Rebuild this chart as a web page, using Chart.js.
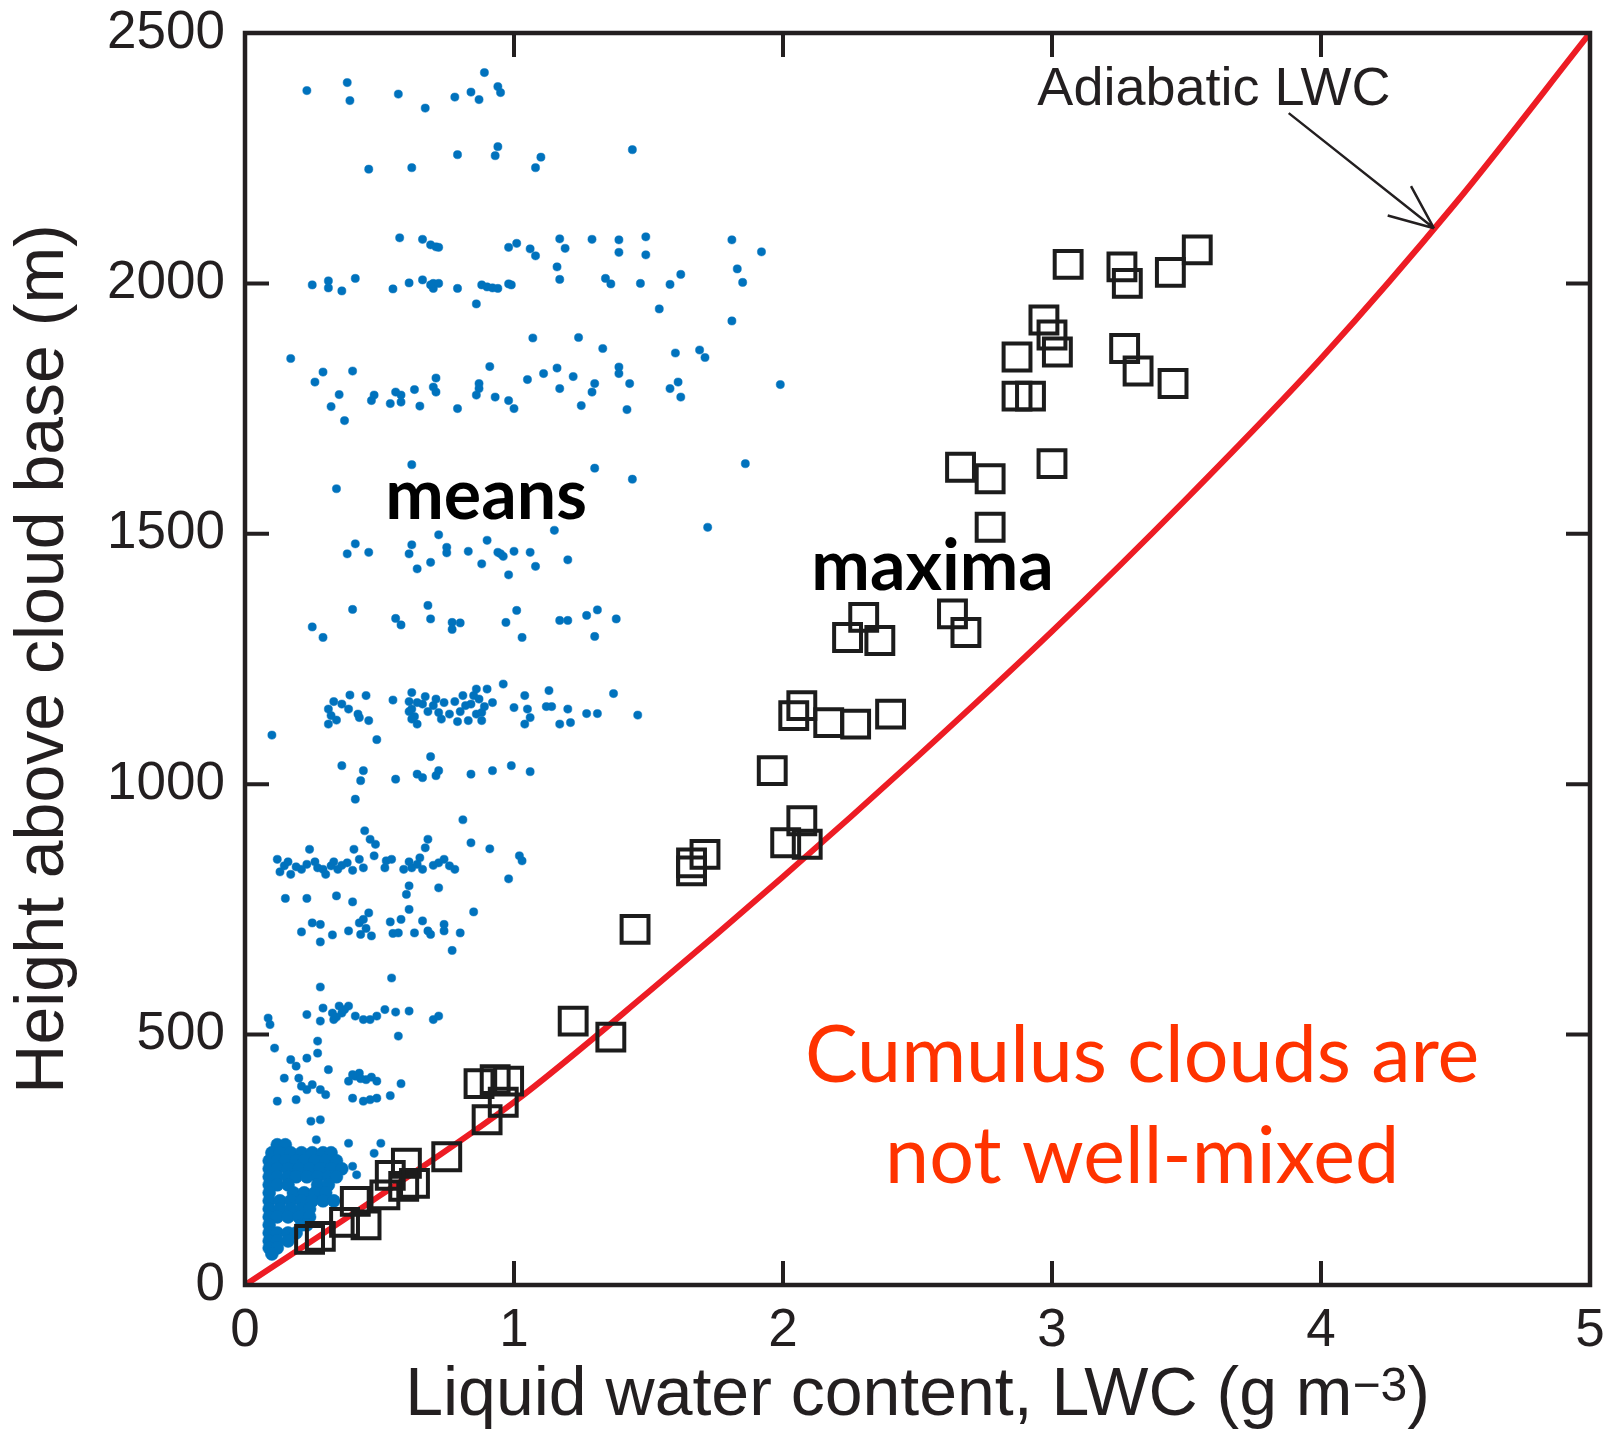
<!DOCTYPE html>
<html>
<head>
<meta charset="utf-8">
<title>Liquid water content vs height above cloud base</title>
<script src="https://cdn.jsdelivr.net/npm/chart.js@4.4.1/dist/chart.umd.min.js"></script>
<style>
  html, body { margin: 0; padding: 0; background: #ffffff; }
  #wrap { width: 1619px; height: 1431px; }
</style>
</head>
<body>
<div id="wrap"><canvas id="chart" width="1619" height="1431"></canvas></div>
<script>
// ---------- data ----------
// Axis tick values
const lwcTicks = [0, 1, 2, 3, 4, 5];
const heightTicks = [0, 500, 1000, 1500, 2000, 2500];

// In-cloud mean liquid water content samples [LWC g m^-3, height m]
const meansPoints = [
  // ~2380 m
  [0.23,2385],[0.38,2401],[0.39,2365],[0.57,2378],[0.67,2350],[0.78,2372],[0.84,2382],[0.87,2367],[0.89,2421],[0.94,2393],[0.95,2381],
  // ~2250 m
  [0.46,2228],[0.62,2231],[0.79,2257],[0.94,2273],[0.93,2255],[1.10,2252],[1.08,2231],[1.44,2267],
  // ~2080 m
  [0.575,2091],[0.66,2088],[0.69,2077],[0.71,2073],[0.72,2072],[0.98,2072],[1.01,2080],[1.06,2069],[1.08,2055],[1.17,2089],
  [1.19,2070],[1.16,2033],[1.17,2008],[1.29,2088],[1.39,2087],[1.39,2062],[1.49,2093],[1.49,2057],[1.81,2087],[1.92,2063],
  [1.83,2029],[1.85,2002],[1.62,2018],[1.58,1998],[1.47,2000],[1.34,2010],[1.36,1999],[1.54,1949],[1.81,1925],
  // ~2000 m
  [0.25,1997],[0.31,2005],[0.31,1991],[0.36,1985],[0.41,2010],[0.55,1989],[0.61,2001],[0.66,2007],[0.69,1997],[0.70,1990],
  [0.70,2000],[0.72,2000],[0.79,1990],[0.86,1959],[0.88,1997],[0.90,1993],[0.92,1991],[0.94,1990],[0.98,1999],[0.99,1997],
  // ~1800 m
  [0.17,1850],[0.29,1823],[0.26,1803],[0.40,1825],[0.35,1778],[0.32,1754],[0.37,1726],[0.47,1766],[0.48,1777],[0.54,1760],
  [0.56,1783],[0.58,1763],[0.58,1777],[0.63,1788],[0.65,1755],[0.70,1793],[0.71,1811],[0.71,1783],[0.79,1750],[0.91,1834],
  [0.87,1800],[0.87,1790],[0.86,1777],[0.93,1773],[0.98,1766],[1.00,1750],[1.05,1808],[1.07,1891],[1.11,1820],[1.16,1831],
  [1.17,1790],[1.22,1814],[1.24,1892],[1.25,1756],[1.30,1800],[1.29,1783],[1.33,1870],[1.39,1833],[1.39,1820],[1.43,1800],
  [1.42,1748],[1.58,1790],[1.61,1803],[1.62,1773],[1.60,1861],[1.69,1867],[1.71,1852],[1.99,1798],
  // ~1600 m and isolated
  [0.62,1638],[0.34,1590],[1.30,1631],[1.44,1609],[1.86,1640],[1.72,1513],[1.15,1507],[0.72,1498],
  // ~1450 m
  [0.41,1480],[0.38,1460],[0.46,1463],[0.62,1478],[0.61,1460],[0.64,1430],[0.69,1443],[0.75,1473],[0.75,1462],[0.83,1465],
  [0.88,1440],[0.90,1487],[0.94,1463],[0.96,1455],[0.95,1460],[0.98,1418],[1.00,1465],[1.06,1463],[1.08,1435],[1.20,1448],
  // ~1320 m
  [0.40,1349],[0.25,1314],[0.29,1293],[0.56,1331],[0.58,1318],[0.68,1357],[0.69,1330],[0.77,1323],[0.77,1309],[0.80,1322],
  [0.97,1323],[1.01,1347],[1.03,1293],[1.17,1327],[1.20,1327],[1.27,1337],[1.31,1348],[1.30,1295],[1.38,1330],
  // ~1150 m
  [0.10,1098],[0.31,1150],[0.32,1137],[0.31,1120],[0.36,1160],[0.39,1178],[0.385,1150],[0.425,1133],[0.46,1127],[0.45,1177],
  [0.49,1089],[0.55,1168],[0.62,1183],[0.64,1163],[0.64,1120],[0.70,1157],[0.72,1143],[0.74,1163],[0.76,1140],[0.81,1177],
  [0.82,1157],[0.83,1127],[0.85,1177],[0.88,1143],[0.88,1127],[0.90,1190],[0.92,1163],[0.96,1200],[1.00,1153],[1.04,1177],
  [1.05,1150],[1.04,1120],[1.06,1133],[1.13,1187],[1.12,1155],[1.14,1155],[1.20,1150],[1.17,1120],[1.21,1123],[1.27,1141],
  [1.31,1141],[1.37,1181],[1.46,1138],
  [0.66,1160],[0.68,1145],[0.71,1170],[0.73,1130],[0.78,1165],[0.80,1145],[0.84,1160],[0.86,1140],[0.87,1170],[0.79,1125],
  [0.62,1150],[0.63,1135],[0.67,1175],[0.86,1190],[0.89,1155],[0.61,1165],[0.61,1145],[0.62,1130],[0.33,1165],[0.34,1128],[0.42,1140],
  // ~1030 m
  [0.36,1037],[0.44,1027],[0.43,1007],[0.56,1010],[0.69,1055],[0.64,1020],[0.66,1013],[0.71,1017],[0.72,1027],[0.84,1020],
  [0.92,1027],[0.99,1037],[1.06,1025],[0.41,970],[0.81,929],
  // ~830 m
  [0.445,907],[0.465,890],[0.485,880],[0.12,850],[0.146,837],[0.17,820],[0.21,830],[0.24,870],[0.27,833],[0.29,830],
  [0.32,837],[0.345,830],[0.38,843],[0.405,870],[0.425,850],[0.44,833],[0.48,857],[0.525,847],[0.545,850],[0.52,833],
  [0.59,830],[0.62,833],[0.65,853],[0.68,890],[0.67,873],[0.72,843],[0.76,837],[0.78,830],[0.72,793],[0.61,797],
  [0.60,780],[0.84,883],[0.91,871],[0.98,811],[1.02,857],[1.03,847],
  [0.13,825],[0.16,845],[0.19,835],[0.23,840],[0.26,845],[0.30,820],[0.33,845],[0.36,838],[0.40,828],
  [0.61,845],[0.64,840],[0.70,838],[0.74,850],[0.66,830],
  // ~720 m
  [0.15,772],[0.23,772],[0.34,777],[0.40,765],[0.21,705],[0.25,723],[0.28,720],[0.28,685],[0.325,699],[0.385,707],
  [0.425,723],[0.46,743],[0.47,697],[0.54,725],[0.55,702],[0.57,703],[0.58,730],[0.61,750],[0.63,703],[0.66,727],
  [0.68,707],[0.69,700],[0.74,720],[0.74,707],[0.80,703],[0.85,745],[0.77,668],[0.44,730],[0.45,712],[0.43,700],
  // ~540 m
  [0.545,613],[0.28,595],[0.086,533],[0.093,520],[0.23,540],[0.28,527],[0.29,553],[0.325,543],[0.33,530],[0.35,557],
  [0.36,543],[0.385,557],[0.41,537],[0.44,530],[0.465,530],[0.49,537],[0.52,550],[0.56,545],[0.61,547],[0.70,530],
  [0.72,537],[0.57,497],[0.34,535],[0.37,550],
  // ~400 m
  [0.11,473],[0.17,450],[0.19,437],[0.23,453],[0.27,487],[0.27,463],[0.31,430],[0.146,413],[0.20,413],[0.21,397],
  [0.23,390],[0.25,400],[0.28,390],[0.30,380],[0.19,370],[0.12,367],[0.385,407],[0.41,417],[0.425,423],[0.45,410],
  [0.49,407],[0.40,373],[0.44,367],[0.465,370],[0.49,373],[0.54,378],[0.58,402],[0.40,420],[0.43,412],[0.47,415],
  // ~300 m
  [0.245,327],[0.28,330],[0.13,280],[0.265,290],[0.385,283],[0.505,283],[0.48,263],[0.40,237],[0.415,220]
];

// Heavily overlapping mean samples just above cloud base [LWC g m^-3, height m]
const meansBasePoints = [
  [0.12,280],[0.15,280],
  [0.10,264],[0.13,264],[0.17,264],[0.21,264],[0.25,264],[0.29,264],[0.32,264],
  [0.09,248],[0.12,248],[0.15,248],[0.19,248],[0.22,248],[0.26,248],[0.30,248],[0.34,248],
  [0.09,232],[0.12,232],[0.16,232],[0.20,232],[0.24,232],[0.28,232],[0.32,232],[0.36,232],
  [0.09,216],[0.12,216],[0.16,216],[0.19,216],[0.23,216],[0.27,216],[0.31,216],[0.34,216],
  [0.09,200],[0.12,200],[0.16,200],[0.27,200],[0.31,200],
  [0.09,184],[0.18,184],[0.22,184],[0.26,184],[0.30,184],
  [0.09,168],[0.13,168],[0.17,168],[0.21,168],[0.25,168],[0.29,168],[0.33,168],
  [0.09,152],[0.13,152],[0.17,152],[0.21,152],[0.24,152],
  [0.09,136],[0.12,136],[0.16,136],[0.20,136],[0.24,136],
  [0.09,120],[0.21,120],[0.23,120],
  [0.09,104],[0.12,104],[0.16,104],[0.19,104],
  [0.09,88],[0.12,88],[0.16,88],
  [0.09,74],[0.12,74],
  [0.10,62]
];

// In-cloud maximum liquid water content [LWC g m^-3, height m]
const maximaPoints = [
  [0.24,91],[0.28,97],[0.37,125],[0.45,120],[0.41,167],[0.52,180],[0.59,197],[0.63,203],[0.54,219],[0.60,243],
  [0.75,256],[0.90,330],[0.96,365],[0.87,402],[0.93,410],[0.98,407],[1.22,527],[1.36,495],[1.45,710],[1.66,827],
  [1.66,843],[1.71,860],[1.96,1027],[2.01,883],[2.09,880],[2.07,927],[2.04,1137],[2.07,1157],[2.17,1123],[2.27,1120],
  [2.40,1140],[2.24,1293],[2.30,1333],[2.36,1287],[2.63,1340],[2.68,1303],[2.77,1513],[2.66,1633],[2.77,1610],[3.00,1640],
  [2.87,1775],[2.92,1775],[2.87,1853],[2.97,1927],[3.00,1897],[3.02,1863],[3.27,1870],[3.32,1825],[3.45,1800],[3.06,2038],
  [3.26,2033],[3.28,2000],[3.44,2022],[3.54,2067]
];

// Adiabatic liquid water content profile
const adiabaticLwc    = [0, 0.5, 1, 1.5, 2, 2.5, 3, 3.5, 4, 4.5, 5];
const adiabaticHeight = [0, 178, 365, 585, 815, 1055, 1305, 1570, 1850, 2160, 2500];

// ---------- text annotations (data coordinates) ----------
const notes = {
  means:     { x: 0.896, y: 1530, text: 'means' },
  maxima:    { x: 2.556, y: 1388, text: 'maxima' },
  adiabatic: { x: 3.602, y: 2356, text: 'Adiabatic LWC' },
  arrowFrom: { x: 3.88,  y: 2340 },
  arrowTo:   { x: 4.42,  y: 2110 },
  verdict:   { x: 3.335, lines: [{ y: 406, text: 'Cumulus clouds are' }, { y: 204, text: 'not well-mixed' }] }
};

const INK = '#231f20';
const MEAN_BLUE = 'rgb(0,114,189)';
const SANS = '"Liberation Sans", Arial, Helvetica, sans-serif';
const HUMANIST = 'Lato, "Open Sans", sans-serif';

// Frame, inward ticks, annotations and the x-axis title with superscript
const decorPlugin = {
  id: 'decor',
  afterDatasetsDraw(chart) {
    const { ctx, chartArea: a, scales } = chart;
    const xs = scales.x, ys = scales.y;
    const px = v => xs.getPixelForValue(v);
    const py = v => ys.getPixelForValue(v);
    ctx.save();

    // inward ticks on all four sides
    const tickLen = 24;
    ctx.strokeStyle = INK;
    ctx.lineWidth = 4;
    ctx.beginPath();
    lwcTicks.slice(1, -1).forEach(v => {
      const x = px(v);
      ctx.moveTo(x, a.bottom); ctx.lineTo(x, a.bottom - tickLen);
      ctx.moveTo(x, a.top);    ctx.lineTo(x, a.top + tickLen);
    });
    heightTicks.slice(1, -1).forEach(v => {
      const y = py(v);
      ctx.moveTo(a.left, y);  ctx.lineTo(a.left + tickLen, y);
      ctx.moveTo(a.right, y); ctx.lineTo(a.right - tickLen, y);
    });
    ctx.stroke();

    // frame
    ctx.lineWidth = 4.5;
    ctx.strokeRect(a.left, a.top, a.right - a.left, a.bottom - a.top);

    // labels for the two populations
    ctx.fillStyle = '#000000';
    ctx.textAlign = 'center';
    ctx.textBaseline = 'alphabetic';
    ctx.font = 'bold 70px ' + HUMANIST;
    ctx.fillText(notes.means.text, px(notes.means.x), py(notes.means.y));
    ctx.fillText(notes.maxima.text, px(notes.maxima.x), py(notes.maxima.y));

    // adiabatic label and arrow
    ctx.fillStyle = INK;
    ctx.font = '54px ' + SANS;
    ctx.fillText(notes.adiabatic.text, px(notes.adiabatic.x), py(notes.adiabatic.y));
    const x0 = px(notes.arrowFrom.x), y0 = py(notes.arrowFrom.y);
    const x1 = px(notes.arrowTo.x),   y1 = py(notes.arrowTo.y);
    const ang = Math.atan2(y1 - y0, x1 - x0);
    const head = 48, spread = 23 * Math.PI / 180;
    ctx.lineWidth = 2.5;
    ctx.beginPath();
    ctx.moveTo(x0, y0); ctx.lineTo(x1, y1);
    ctx.moveTo(x1, y1); ctx.lineTo(x1 - head * Math.cos(ang - spread), y1 - head * Math.sin(ang - spread));
    ctx.moveTo(x1, y1); ctx.lineTo(x1 - head * Math.cos(ang + spread), y1 - head * Math.sin(ang + spread));
    ctx.stroke();

    // conclusion
    ctx.fillStyle = '#ff3300';
    ctx.font = '79px ' + HUMANIST;
    notes.verdict.lines.forEach(l => ctx.fillText(l.text, px(notes.verdict.x), py(l.y)));

    // x-axis title with superscript exponent
    const main = 'Liquid water content, LWC (g m';
    const sup = '\u22123';
    const tail = ')';
    const mainFont = '68px ' + SANS, supFont = '48px ' + SANS;
    ctx.font = mainFont; const wMain = ctx.measureText(main).width; const wTail = ctx.measureText(tail).width;
    ctx.font = supFont;  const wSup = ctx.measureText(sup).width;
    const total = wMain + wSup + wTail;
    const cx = (a.left + a.right) / 2;
    const base = xs.bottom - 16;
    let x = cx - total / 2;
    ctx.fillStyle = INK;
    ctx.textAlign = 'left';
    ctx.font = mainFont; ctx.fillText(main, x, base); x += wMain;
    ctx.font = supFont;  ctx.fillText(sup, x, base - 14); x += wSup;
    ctx.font = mainFont; ctx.fillText(tail, x, base);

    ctx.restore();
  }
};

function build() {
  const toXY = p => ({ x: p[0], y: p[1] });
  new Chart(document.getElementById('chart'), {
    type: 'scatter',
    data: {
      datasets: [
        {
          label: 'means',
          data: meansPoints.map(toXY),
          pointStyle: 'circle',
          pointRadius: 4.1,
          pointBackgroundColor: MEAN_BLUE,
          pointBorderColor: MEAN_BLUE,
          pointBorderWidth: 0.5,
          order: 4
        },
        {
          label: 'means near base',
          data: meansBasePoints.map(toXY),
          pointStyle: 'circle',
          pointRadius: 6.5,
          pointBackgroundColor: MEAN_BLUE,
          pointBorderColor: MEAN_BLUE,
          pointBorderWidth: 0.5,
          order: 3
        },
        {
          label: 'Adiabatic LWC',
          type: 'line',
          data: adiabaticLwc.map((v, i) => ({ x: v, y: adiabaticHeight[i] })),
          borderColor: '#ed1c24',
          borderWidth: 6,
          pointRadius: 0,
          fill: false,
          cubicInterpolationMode: 'monotone',
          order: 2
        },
        {
          label: 'maxima',
          data: maximaPoints.map(toXY),
          pointStyle: 'rect',
          pointRadius: 19,
          pointBackgroundColor: 'rgba(0,0,0,0)',
          pointBorderColor: '#1c1c1c',
          pointBorderWidth: 4,
          order: 1
        }
      ]
    },
    options: {
      responsive: false,
      animation: false,
      devicePixelRatio: 1,
      events: [],
      layout: { padding: { left: 0, right: 29, top: 33, bottom: 0 } },
      plugins: { legend: { display: false }, tooltip: { enabled: false } },
      scales: {
        x: {
          type: 'linear',
          min: lwcTicks[0],
          max: lwcTicks[lwcTicks.length - 1],
          afterBuildTicks: s => { s.ticks = lwcTicks.map(v => ({ value: v })); },
          ticks: { padding: 15, color: INK, maxRotation: 0, font: { family: SANS, size: 53 }, callback: v => String(v) },
          grid: { display: false, drawTicks: false },
          border: { display: false },
          afterFit: s => { s.height = 146; s.paddingLeft = 0; s.paddingRight = 0; }
        },
        y: {
          type: 'linear',
          min: heightTicks[0],
          max: heightTicks[heightTicks.length - 1],
          afterBuildTicks: s => { s.ticks = heightTicks.map(v => ({ value: v })); },
          ticks: { padding: 20, color: INK, font: { family: SANS, size: 53 }, callback: v => String(v) },
          grid: { display: false, drawTicks: false },
          border: { display: false },
          title: {
            display: true,
            text: 'Height above cloud base (m)',
            color: INK,
            font: { family: SANS, size: 68 },
            padding: { top: 3, bottom: 0 }
          },
          afterFit: s => { s.width = 245; s.paddingTop = 0; s.paddingBottom = 0; }
        }
      }
    },
    plugins: [decorPlugin]
  });
}

const fontLoads = document.fonts
  ? Promise.all([
      document.fonts.load('bold 70px Lato'),
      document.fonts.load('79px Lato'),
      document.fonts.load('54px "Liberation Sans"')
    ]).catch(() => null)
  : Promise.resolve();
fontLoads.then(build, build);
</script>
</body>
</html>
